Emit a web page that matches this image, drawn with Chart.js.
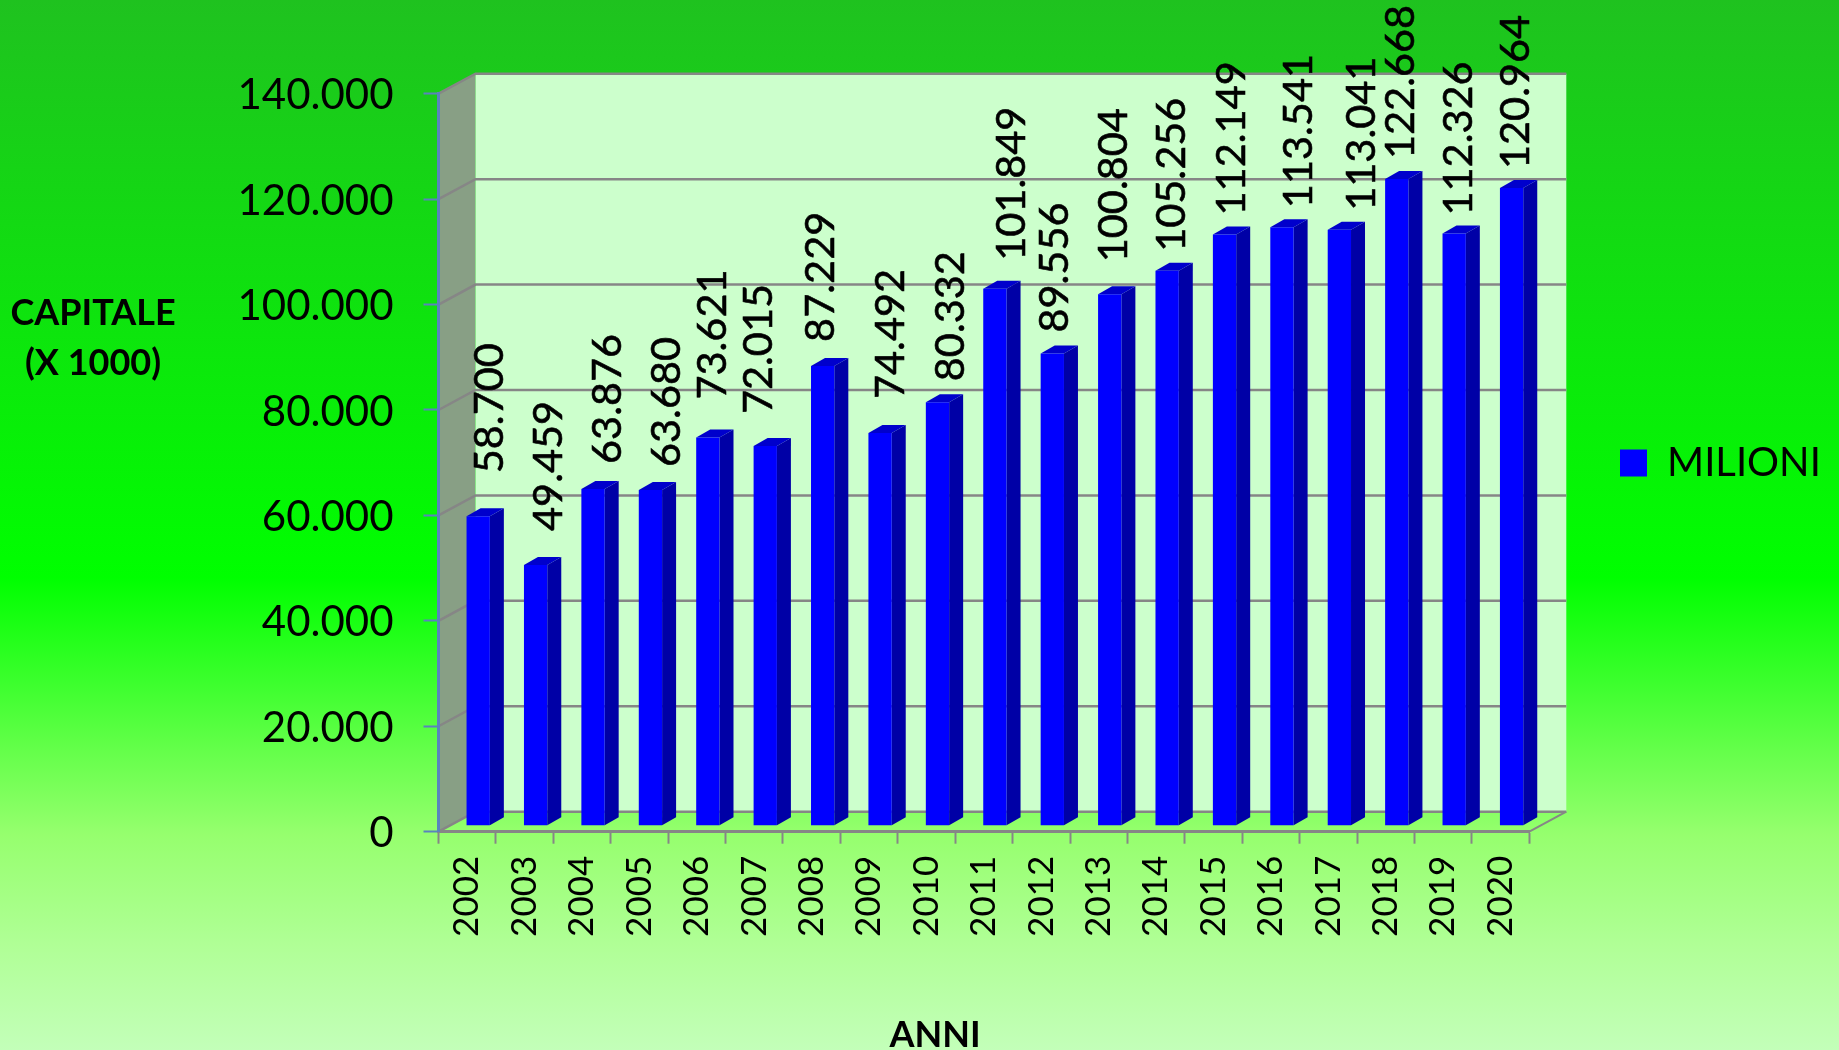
<!DOCTYPE html>
<html>
<head>
<meta charset="utf-8">
<title>Capitale</title>
<script src="https://cdn.jsdelivr.net/npm/chart.js@4"></script>
<style>
    html, body { margin: 0; padding: 0; background: #00ff00; }
    #wrap { width: 1839px; height: 1050px; }
    canvas { display: block; }
</style>
</head>
<body>
<div id="wrap"><canvas id="chart" width="1839" height="1050"></canvas></div>
<script>
const years = ['2002', '2003', '2004', '2005', '2006', '2007', '2008', '2009', '2010', '2011',
    '2012', '2013', '2014', '2015', '2016', '2017', '2018', '2019', '2020'];
const milioni = [58700, 49459, 63876, 63680, 73621, 72015, 87229, 74492, 80332, 101849,
    89556, 100804, 105256, 112149, 113541, 113041, 122668, 112326, 120964];

// the value labels were nudged by hand in the original, so each one has its own offset
const labelGaps = [43, 34, 25, 23, 38, 32, 24, 34, 21, 28, 21, 32, 19, 19, 19, 19, 20, 18, 19];
const labelNudges = [21, 22, 24, 26, 14, 3, 7, 20, 23, 26, 12, 13, 14, 16, 26, 32, 13, 14, 13];

const fontName = "Lato, 'Open Sans', sans-serif";
const gridColor = '#868686';
const axisColor = '#5a83bd';

// 3D look of the old office chart
const wallDepth = { x: 37, y: -20 };
const barShift = { x: 11, y: -6 };
const barDepth = { x: 14, y: -8 };

function formatThousands(value) {
    return String(value).replace(/\B(?=(\d{3})+$)/g, '.');
}

function polygon(ctx, points, fill) {
    ctx.beginPath();
    points.forEach((p, i) => (i ? ctx.lineTo(p[0], p[1]) : ctx.moveTo(p[0], p[1])));
    ctx.closePath();
    ctx.fillStyle = fill;
    ctx.fill();
}

const backdropPlugin = {
    id: 'backdrop',
    afterLayout(chart) {
        // legend stays out of the layout, then goes to the right of the plot
        const legend = chart.legend;
        legend.left = 1620;
        legend.right = 1839;
        legend.top = 443;
        legend.bottom = 490;
    },
    beforeDraw(chart) {
        const { ctx, width, height, chartArea: area, scales } = chart;
        const bg = ctx.createLinearGradient(0, 0, 0, height);
        bg.addColorStop(0, '#1fc21f');
        bg.addColorStop(0.55, '#00ff00');
        bg.addColorStop(0.65, '#3cff2d');
        bg.addColorStop(0.795, '#96ff6e');
        bg.addColorStop(0.9, '#b0ff96');
        bg.addColorStop(1, '#c3ffb9');
        ctx.fillStyle = bg;
        ctx.fillRect(0, 0, width, height);

        const dx = wallDepth.x;
        const dy = wallDepth.y;
        polygon(ctx, [[area.left, area.top], [area.left + dx, area.top + dy],
            [area.left + dx, area.bottom + dy], [area.left, area.bottom]], '#889f85');
        polygon(ctx, [[area.left + dx, area.top + dy], [area.right + dx, area.top + dy],
            [area.right + dx, area.bottom + dy], [area.left + dx, area.bottom + dy]], '#ccffcc');

        ctx.strokeStyle = gridColor;
        ctx.lineWidth = 2.5;
        scales.y.ticks.forEach((tick) => {
            const y = scales.y.getPixelForValue(tick.value);
            ctx.beginPath();
            ctx.moveTo(area.left, y);
            ctx.lineTo(area.left + dx, y + dy);
            ctx.lineTo(area.right + dx, y + dy);
            ctx.stroke();
        });
        ctx.lineWidth = 2;
        ctx.beginPath();
        ctx.moveTo(area.right, area.bottom);
        ctx.lineTo(area.right + dx, area.bottom + dy);
        ctx.stroke();
    }
};

const bar3dPlugin = {
    id: 'bar3d',
    beforeDatasetDraw(chart, args) {
        const { ctx } = chart;
        ctx.save();
        ctx.translate(barShift.x, barShift.y);
        args.meta.data.forEach((bar) => {
            const left = bar.x - bar.width / 2;
            const right = bar.x + bar.width / 2;
            polygon(ctx, [[right, bar.y], [right + barDepth.x, bar.y + barDepth.y],
                [right + barDepth.x, bar.base + barDepth.y], [right, bar.base]], '#0000a6');
            polygon(ctx, [[left, bar.y], [left + barDepth.x, bar.y + barDepth.y],
                [right + barDepth.x, bar.y + barDepth.y], [right, bar.y]], '#0000cc');
        });
    },
    afterDatasetDraw(chart) {
        chart.ctx.restore();
    }
};

const textPlugin = {
    id: 'chartText',
    afterDraw(chart) {
        const { ctx } = chart;
        ctx.save();
        ctx.fillStyle = '#000';
        ctx.strokeStyle = '#000';

        // rotated value labels above the bars
        ctx.font = '41.5px ' + fontName;
        ctx.textAlign = 'left';
        ctx.textBaseline = 'alphabetic';
        ctx.lineWidth = 0.6;
        chart.getDatasetMeta(0).data.forEach((bar, i) => {
            const text = formatThousands(milioni[i]);
            ctx.save();
            ctx.translate(bar.x + labelNudges[i] + 15, bar.y + barShift.y - labelGaps[i]);
            ctx.rotate(-Math.PI / 2);
            ctx.fillText(text, 0, 0);
            ctx.strokeText(text, 0, 0);
            ctx.restore();
        });

        // axis titles sit apart from the axes, not on the library's title spots
        ctx.font = 'bold 36px ' + fontName;
        ctx.textAlign = 'center';
        ctx.fillText('CAPITALE', 93, 325);
        ctx.fillText('(X 1000)', 93, 375);
        ctx.fillText('ANNI', 935, 1047);
        ctx.restore();
    }
};

new Chart(document.getElementById('chart'), {
    type: 'bar',
    data: {
        labels: years,
        datasets: [{
            label: 'MILIONI',
            data: milioni,
            backgroundColor: '#0000ff',
            borderWidth: 0,
            barPercentage: 0.406,
            categoryPercentage: 1,
            clip: false
        }]
    },
    options: {
        responsive: false,
        animation: false,
        layout: { padding: { top: 93.7, right: 309.7, left: 0, bottom: 0 } },
        plugins: {
            tooltip: { enabled: false },
            legend: {
                position: 'chartArea',
                align: 'start',
                labels: {
                    boxWidth: 27,
                    boxHeight: 27,
                    padding: 0,
                    color: '#000',
                    font: { family: fontName, size: 40 }
                }
            }
        },
        scales: {
            x: {
                afterFit(scale) { scale.height = 218.3; },
                border: { color: gridColor, width: 3 },
                grid: {
                    offset: true,
                    drawOnChartArea: false,
                    tickColor: gridColor,
                    tickWidth: 2,
                    tickLength: 12
                },
                ticks: {
                    minRotation: 90,
                    maxRotation: 90,
                    autoSkip: false,
                    padding: 12,
                    color: '#000',
                    font: { family: fontName, size: 35 }
                }
            },
            y: {
                min: 0,
                max: 140000,
                afterFit(scale) { scale.width = 438.5; },
                border: { color: axisColor, width: 3 },
                grid: {
                    drawOnChartArea: false,
                    tickColor: axisColor,
                    tickWidth: 2,
                    tickLength: 15
                },
                ticks: {
                    stepSize: 20000,
                    padding: 30,
                    labelOffset: 2,
                    color: '#000',
                    font: { family: fontName, size: 42 },
                    callback: (value) => formatThousands(value)
                }
            }
        }
    },
    plugins: [backdropPlugin, bar3dPlugin, textPlugin]
});
</script>
</body>
</html>
